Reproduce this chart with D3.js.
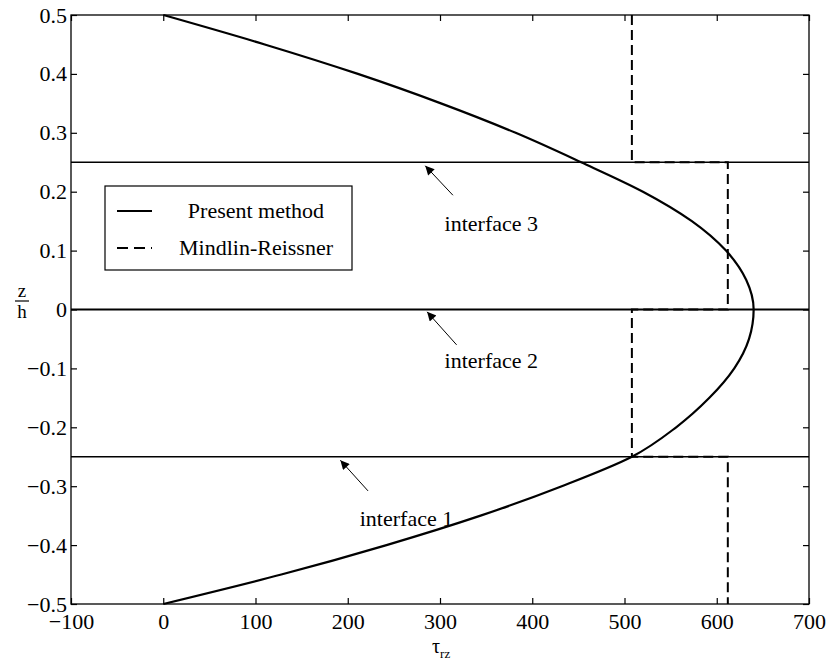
<!DOCTYPE html>
<html>
<head>
<meta charset="utf-8">
<script src="https://cdn.jsdelivr.net/npm/d3@7"></script>
<style>
  body { margin: 0; background: #fff; }
  svg { display: block; font-family: "Liberation Serif", "Times New Roman", serif; }
</style>
</head>
<body>
<svg id="chart" width="831" height="671"></svg>
<script>
// tick values
const x_ticks = [-100, 0, 100, 200, 300, 400, 500, 600, 700];
const y_ticks = [-0.5, -0.4, -0.3, -0.2, -0.1, 0, 0.1, 0.2, 0.3, 0.4, 0.5];

// present method: z and tau_rz
const present_z = [-0.5, -0.45, -0.4, -0.35, -0.3, -0.25, -0.2, -0.15, -0.1, -0.05, 0, 0.05, 0.1, 0.15, 0.2, 0.25, 0.3, 0.35, 0.4, 0.45, 0.5];
const present_tau = [0, 128, 242, 344, 432, 508, 556, 592, 619, 635, 640, 632, 610, 573, 520, 453, 382, 301, 211, 110, 0];

// Mindlin-Reissner: piecewise constant per layer
const mindlin_z = [0.5, 0.25, 0.25, 0, 0, -0.25, -0.25, -0.5];
const mindlin_tau = [508, 508, 612, 612, 508, 508, 612, 612];

// interfaces
const interface_z = [-0.25, 0, 0.25];
const interface_names = ['interface 1', 'interface 2', 'interface 3'];
// annotation arrows [tip tau, tip z, tail tau, tail z] and text [tau, z]
const arrow_pts = [[192, -0.256, 222, -0.308], [286, -0.004, 318, -0.060], [284, 0.244, 314, 0.194]];
const label_pts = [[213, -0.368], [305, -0.099], [305, 0.133]];

const legend_names = ['Present method', 'Mindlin-Reissner'];

(() => {
    // chart parameters
    const m_left = 71, m_right = 809, m_top = 15, m_bottom = 604;
    const font_size = 22;

    let svg = d3.select('#chart');

    let x_scale = d3.scaleLinear().domain([-100, 700]).range([m_left, m_right]);
    let y_scale = d3.scaleLinear().domain([-0.5, 0.5]).range([m_bottom, m_top]);

    let fmt_y = (d) => d === 0 ? '0' : d3.format('.1f')(d).replace('-', '\u2212').replace('\u2212', '\u2212');
    let fmt_x = (d) => String(d).replace('-', '\u2212');

    // interface lines
    svg.selectAll('.iface')
        .data(interface_z)
        .enter()
        .append('line')
        .attr('x1', m_left).attr('x2', m_right)
        .attr('y1', (d) => y_scale(d)).attr('y2', (d) => y_scale(d))
        .attr('stroke', '#000')
        .attr('stroke-width', (d) => d === 0 ? 2.2 : 1.3);

    // Mindlin-Reissner dashed
    svg.append('path')
        .datum(mindlin_z.map((z, i) => [mindlin_tau[i], z]))
        .attr('fill', 'none')
        .attr('stroke', '#000')
        .attr('stroke-width', 2)
        .attr('stroke-dasharray', '10,5')
        .attr('d', d3.line().x((d) => x_scale(d[0])).y((d) => y_scale(d[1])));

    // present method solid
    svg.append('path')
        .datum(present_z.map((z, i) => [present_tau[i], z]))
        .attr('fill', 'none')
        .attr('stroke', '#000')
        .attr('stroke-width', 2.2)
        .attr('d', d3.line().curve(d3.curveMonotoneY).x((d) => x_scale(d[0])).y((d) => y_scale(d[1])));

    // axes, ticks inward on all four sides
    let style_axis = (g) => {
        g.select('.domain').remove();
        g.selectAll('line').attr('stroke', '#000').attr('stroke-width', 1.2);
        g.selectAll('text').attr('fill', '#000').style('font-size', font_size + 'px').style('font-family', '"Liberation Serif", serif');
    };

    svg.append('g').attr('transform', `translate(0,${m_bottom})`)
        .call(d3.axisBottom(x_scale).tickValues(x_ticks).tickSize(-6).tickPadding(9).tickFormat(fmt_x))
        .call(style_axis);
    svg.append('g').attr('transform', `translate(0,${m_top})`)
        .call(d3.axisTop(x_scale).tickValues(x_ticks).tickSize(-6).tickFormat(''))
        .call(style_axis);
    svg.append('g').attr('transform', `translate(${m_left},0)`)
        .call(d3.axisLeft(y_scale).tickValues(y_ticks).tickSize(-6).tickPadding(4).tickFormat(fmt_y))
        .call(style_axis);
    svg.append('g').attr('transform', `translate(${m_right},0)`)
        .call(d3.axisRight(y_scale).tickValues(y_ticks).tickSize(-6).tickFormat(''))
        .call(style_axis);

    // frame
    svg.append('rect')
        .attr('x', m_left).attr('y', m_top)
        .attr('width', m_right - m_left).attr('height', m_bottom - m_top)
        .attr('fill', 'none').attr('stroke', '#000').attr('stroke-width', 1.3);

    // annotations
    svg.append('defs').append('marker')
        .attr('id', 'head')
        .attr('viewBox', '0 0 10 10')
        .attr('refX', 10).attr('refY', 5)
        .attr('markerWidth', 12).attr('markerHeight', 9)
        .attr('markerUnits', 'userSpaceOnUse')
        .attr('orient', 'auto')
        .append('path').attr('d', 'M0,0 L10,5 L0,10 z').attr('fill', '#000');

    svg.selectAll('.arrow')
        .data(arrow_pts)
        .enter()
        .append('line')
        .attr('x1', (d) => x_scale(d[2])).attr('y1', (d) => y_scale(d[3]))
        .attr('x2', (d) => x_scale(d[0])).attr('y2', (d) => y_scale(d[1]))
        .attr('stroke', '#000').attr('stroke-width', 1)
        .attr('marker-end', 'url(#head)');

    svg.selectAll('.iface-label')
        .data(interface_names)
        .enter()
        .append('text')
        .attr('x', (d, i) => x_scale(label_pts[i][0]))
        .attr('y', (d, i) => y_scale(label_pts[i][1]))
        .text((d) => d)
        .style('font-size', font_size + 'px');

    // legend
    let legend = svg.append('g');
    legend.append('rect')
        .attr('x', 105).attr('y', 186).attr('width', 247).attr('height', 84)
        .attr('fill', '#fff').attr('stroke', '#000').attr('stroke-width', 1.2);
    legend.selectAll('.leg-line')
        .data(legend_names)
        .enter()
        .append('line')
        .attr('x1', 117).attr('x2', 152)
        .attr('y1', (d, i) => 211 + i * 37).attr('y2', (d, i) => 211 + i * 37)
        .attr('stroke', '#000').attr('stroke-width', 2)
        .attr('stroke-dasharray', (d, i) => i === 1 ? '11,6' : null);
    legend.selectAll('.leg-text')
        .data(legend_names)
        .enter()
        .append('text')
        .attr('x', 256)
        .attr('y', (d, i) => 218 + i * 37)
        .attr('text-anchor', 'middle')
        .text((d) => d)
        .style('font-size', font_size + 'px');

    // x label: tau_rz
    let xl = svg.append('text').attr('x', 432).attr('y', 653).style('font-size', '20px');
    xl.append('tspan').text('\u03c4');
    xl.append('tspan').attr('dy', 5).style('font-size', '13px').text('rz');

    // y label: z over h
    svg.append('text').attr('x', 22).attr('y', 297).attr('text-anchor', 'middle').style('font-size', '19px').text('z');
    svg.append('line').attr('x1', 15).attr('x2', 29).attr('y1', 301).attr('y2', 301).attr('stroke', '#000').attr('stroke-width', 1.2);
    svg.append('text').attr('x', 22).attr('y', 318).attr('text-anchor', 'middle').style('font-size', '19px').text('h');
})();
</script>
</body>
</html>
